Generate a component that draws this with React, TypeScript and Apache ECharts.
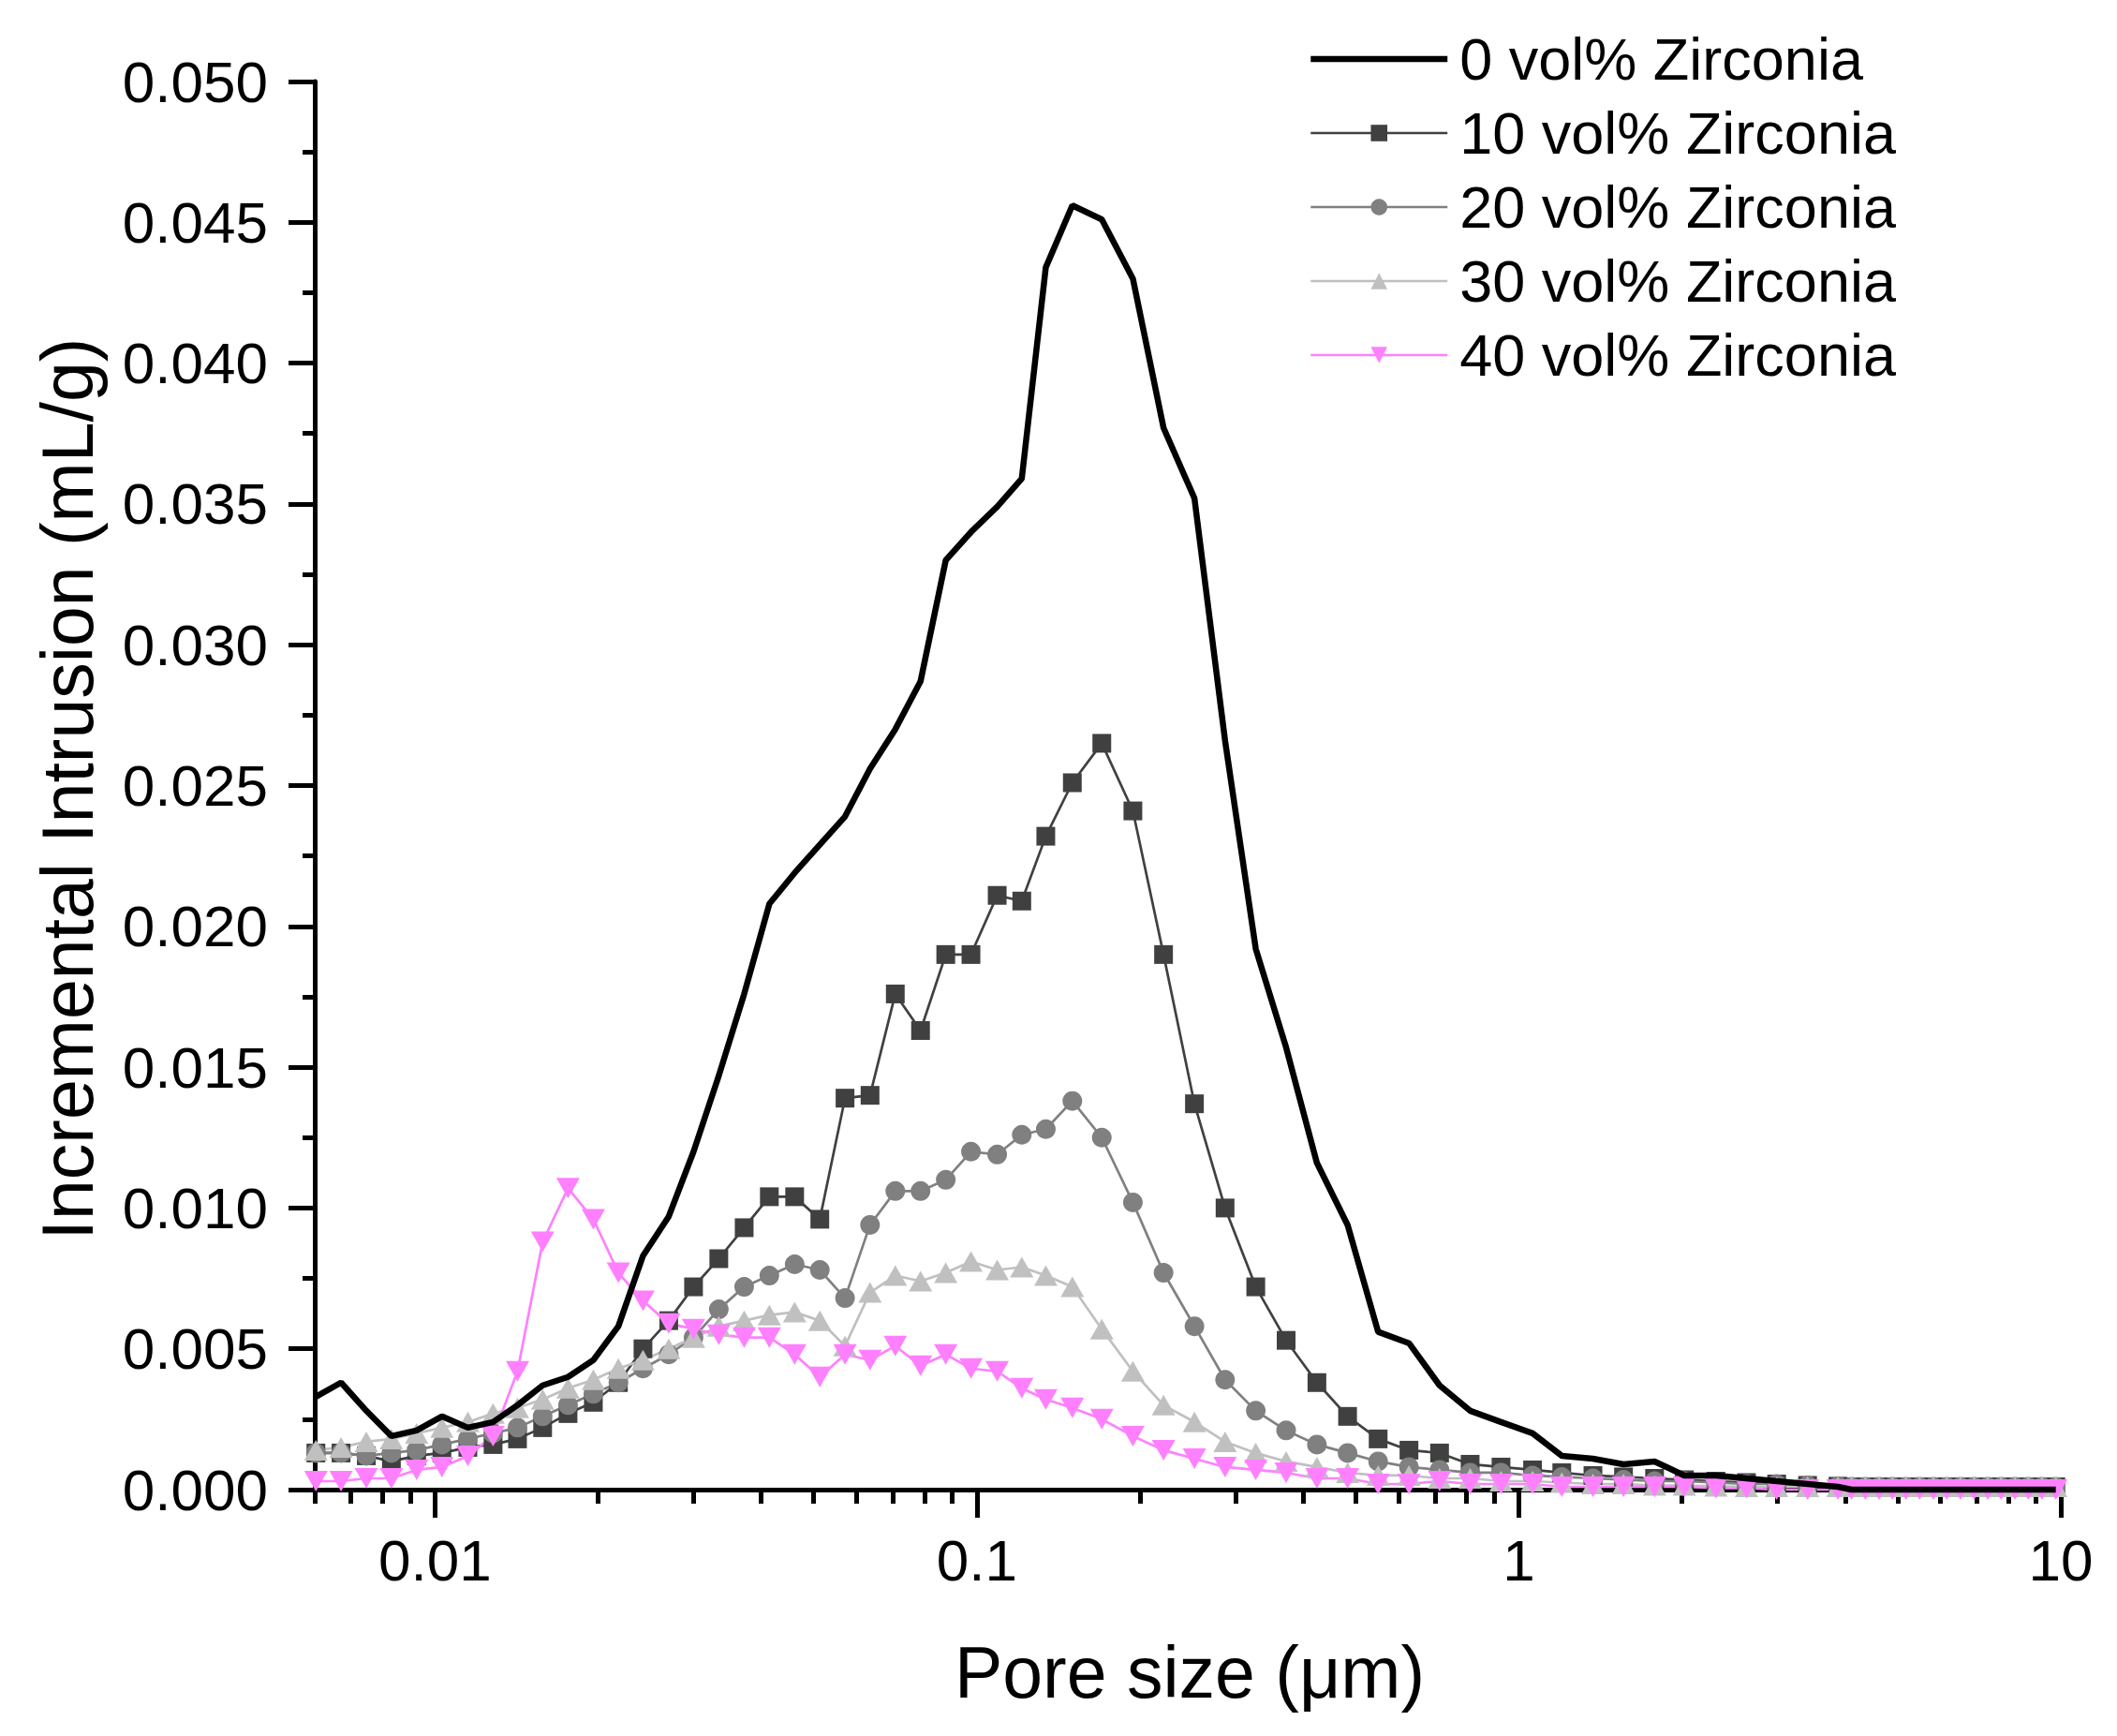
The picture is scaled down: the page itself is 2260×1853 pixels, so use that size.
import React, { useEffect, useRef } from "react";
import * as echarts from "echarts";

const poreSize = [
  0.00603, 0.00671, 0.00747, 0.00831, 0.00925, 0.0103, 0.0115, 0.0128, 0.0142, 0.0158,
  0.0176, 0.0196, 0.0218, 0.0242, 0.027, 0.03, 0.0334, 0.0372, 0.0414, 0.0461,
  0.0513, 0.0571, 0.0635, 0.0707, 0.0787, 0.0876, 0.0975, 0.109, 0.121, 0.134,
  0.15, 0.17, 0.194, 0.221, 0.252, 0.287, 0.327, 0.372, 0.424, 0.483,
  0.55, 0.627, 0.714, 0.813, 0.927, 1.06, 1.2, 1.37, 1.56, 1.78,
  2.02, 2.31, 2.63, 2.99, 3.41, 3.88, 4.11, 4.36, 4.62, 4.89,
  5.18, 5.49, 5.82, 6.16, 6.53, 6.92, 7.33, 7.76, 8.23, 8.71,
  9.23, 9.79,
];

const zirconia0 = [
  0.0033, 0.0038, 0.0028, 0.0019, 0.0021, 0.0026, 0.0022, 0.0024, 0.003, 0.0037,
  0.004, 0.0046, 0.0058, 0.0083, 0.0097, 0.012, 0.0147, 0.0176, 0.0208, 0.0219,
  0.0229, 0.0239, 0.0256, 0.027, 0.0287, 0.033, 0.034, 0.0349, 0.0359, 0.0434,
  0.0456, 0.0451, 0.043, 0.0377, 0.0352, 0.0266, 0.0192, 0.0157, 0.0116, 0.0094,
  0.0056, 0.0052, 0.0037, 0.0028, 0.0024, 0.002, 0.0012, 0.0011, 0.0009, 0.001,
  0.0005, 0.0005, 0.0004, 0.0003, 0.0002, 0.0001, 0, 0, 0, 0,
  0, 0, 0, 0, 0, 0, 0, 0, 0, 0,
  0, 0,
];

const zirconia10 = [
  0.0013, 0.0013, 0.0012, 0.001, 0.0012, 0.0013, 0.0015, 0.0016, 0.0018, 0.0022,
  0.0027, 0.0031, 0.0038, 0.005, 0.006, 0.0072, 0.0082, 0.0093, 0.0104, 0.0104,
  0.0096, 0.0139, 0.014, 0.0176, 0.0163, 0.019, 0.019, 0.0211, 0.0209, 0.0232,
  0.0251, 0.0265, 0.0241, 0.019, 0.0137, 0.01, 0.0072, 0.0053, 0.0038, 0.0026,
  0.0018, 0.0014, 0.0013, 0.0009, 0.0008, 0.0007, 0.0006, 0.0005, 0.00045, 0.0004,
  0.00035, 0.0003, 0.00025, 0.0002, 0.00015, 0.00012, 0.0001, 0.0001, 0.0001, 0.0001,
  0.0001, 0.0001, 0.0001, 0.0001, 0.0001, 0.0001, 0.0001, 0.0001, 0.0001, 0.0001,
  0.0001, 0.0001,
];

const zirconia20 = [
  0.0013, 0.0013, 0.0012, 0.0013, 0.0014, 0.0016, 0.0018, 0.002, 0.0022, 0.0026,
  0.003, 0.0034, 0.0038, 0.0043, 0.0048, 0.0054, 0.0064, 0.0072, 0.0076, 0.008,
  0.0078, 0.0068, 0.0094, 0.0106, 0.0106, 0.011, 0.012, 0.0119, 0.0126, 0.0128,
  0.0138, 0.0125, 0.0102, 0.0077, 0.0058, 0.0039, 0.0028, 0.0021, 0.0016, 0.0013,
  0.001, 0.0008, 0.0007, 0.0006, 0.0006, 0.0005, 0.00045, 0.0004, 0.00035, 0.0003,
  0.0003, 0.00025, 0.0002, 0.0002, 0.00015, 0.00012, 0.0001, 0.0001, 0.0001, 0.0001,
  0.0001, 0.0001, 0.0001, 0.0001, 0.0001, 0.0001, 0.0001, 0.0001, 0.0001, 0.0001,
  0.0001, 0.0001,
];

const zirconia30 = [
  0.0014, 0.0015, 0.0017, 0.0018, 0.002, 0.0022, 0.0024, 0.0027, 0.0029, 0.0032,
  0.0036, 0.0039, 0.0043, 0.0046, 0.005, 0.0054, 0.0058, 0.006, 0.0062, 0.0063,
  0.006, 0.0051, 0.007, 0.0076, 0.0074, 0.0077, 0.0081, 0.0078, 0.0079, 0.0076,
  0.0072, 0.0057, 0.0042, 0.003, 0.0024, 0.0017, 0.0013, 0.001, 0.0008, 0.0006,
  0.0005, 0.0005, 0.0004, 0.0004, 0.0003, 0.0003, 0.00025, 0.0002, 0.0002, 0.00015,
  0.00015, 0.00012, 0.0001, 0.0001, 0.0001, 0.0001, 0.0001, 0.0001, 0.0001, 0.0001,
  0.0001, 0.0001, 0.0001, 0.0001, 0.0001, 0.0001, 0.0001, 0.0001, 0.0001, 0.0001,
  0.0001, 0.0001,
];

const zirconia40 = [
  0.0003, 0.0003, 0.0004, 0.0004, 0.0007, 0.0008, 0.0012, 0.0019, 0.0042, 0.0088,
  0.0107, 0.0096, 0.0077, 0.0067, 0.0059, 0.0057, 0.0055, 0.0054, 0.0054, 0.0048,
  0.004, 0.0048, 0.0046, 0.0051, 0.0044, 0.0048, 0.0043, 0.0042, 0.0036, 0.0032,
  0.0029, 0.0025, 0.0019, 0.0014, 0.0011, 0.0008, 0.0007, 0.0006, 0.0004, 0.0004,
  0.0002, 0.0002, 0.0003, 0.0002, 0.0002, 0.0002, 0.0001, 0.0001, 0.0001, 0.0001,
  0.0001, 0.00005, 0.00005, 0, 0, 0, 0, 0, 0, 0,
  0, 0, 0, 0, 0, 0, 0, 0, 0, 0,
  0, 0,
];

const seriesNames = [
  "0 vol% Zirconia",
  "10 vol% Zirconia",
  "20 vol% Zirconia",
  "30 vol% Zirconia",
  "40 vol% Zirconia",
];

const xMajorTicks = [0.01, 0.1, 1, 10];
const xMinorTicks = [
  0.006, 0.007, 0.008, 0.009,
  0.02, 0.03, 0.04, 0.05, 0.06, 0.07, 0.08, 0.09,
  0.2, 0.3, 0.4, 0.5, 0.6, 0.7, 0.8, 0.9,
  2, 3, 4, 5, 6, 7, 8, 9,
];

const FONT = "Arial, 'Liberation Sans', sans-serif";
const THIN = 2.7;
const THICK = 6.5;

function pairs(values: number[]) {
  return poreSize.map((x, i) => [x, values[i]]);
}

export default function App() {
  const ref = useRef<HTMLDivElement>(null);

  useEffect(() => {
    if (!ref.current) return;
    const chart = echarts.init(ref.current, null, { renderer: "svg" });

    const markerSeries = (
      name: string,
      values: number[],
      color: string,
      symbol: string,
      size: number | number[]
    ) => ({
      name,
      type: "line",
      data: pairs(values),
      xAxisIndex: 0,
      yAxisIndex: 0,
      symbol,
      symbolSize: size,
      showSymbol: true,
      clip: false,
      lineStyle: { color, width: THIN },
      itemStyle: { color, borderWidth: 0 },
      z: 3,
    });

    const option: any = {
      animation: false,
      backgroundColor: "#ffffff",
      grid: { left: 336, top: 87, right: 60, bottom: 263, containLabel: false },
      legend: {
        orient: "vertical",
        left: 1391,
        top: 26,
        itemWidth: 146,
        itemHeight: 22,
        itemGap: 15,
        data: [
          {
            name: seriesNames[0],
            itemStyle: { color: "rgba(0,0,0,0)", opacity: 0, borderWidth: 0 },
            lineStyle: { width: THICK, color: "#000" },
          },
          { name: seriesNames[1], lineStyle: { width: THIN } },
          { name: seriesNames[2], lineStyle: { width: THIN } },
          { name: seriesNames[3], lineStyle: { width: THIN } },
          { name: seriesNames[4], lineStyle: { width: THIN } },
        ],
        textStyle: {
          fontFamily: FONT,
          fontSize: 63,
          color: "#000",
          lineHeight: 64,
          padding: [0, 0, 0, 8],
        },
      },
      xAxis: [
        {
          type: "log",
          logBase: 10,
          min: 0.006,
          max: 10,
          position: "bottom",
          axisLine: { show: true, onZero: false, lineStyle: { color: "#000", width: 5 } },
          axisTick: {
            show: true,
            inside: false,
            length: 30,
            customValues: xMajorTicks,
            lineStyle: { color: "#000", width: 5 },
          },
          minorTick: { show: false },
          splitLine: { show: false },
          axisLabel: {
            show: true,
            customValues: xMajorTicks,
            margin: 44,
            fontFamily: FONT,
            fontSize: 62,
            color: "#000",
            formatter: (v: number) => String(parseFloat(Number(v).toPrecision(3))),
          },
        },
        {
          type: "log",
          logBase: 10,
          min: 0.006,
          max: 10,
          position: "bottom",
          axisLine: { show: false, onZero: false },
          axisTick: {
            show: true,
            inside: false,
            length: 15,
            customValues: xMinorTicks,
            lineStyle: { color: "#000", width: 5 },
          },
          axisLabel: { show: false },
          splitLine: { show: false },
        },
      ],
      yAxis: {
        type: "value",
        min: 0,
        max: 0.05,
        interval: 0.005,
        axisLine: { show: true, lineStyle: { color: "#000", width: 5 } },
        axisTick: { show: true, inside: false, length: 28, lineStyle: { color: "#000", width: 5 } },
        minorTick: { show: true, splitNumber: 2, length: 13, lineStyle: { color: "#000", width: 5 } },
        splitLine: { show: false },
        axisLabel: {
          margin: 50,
          fontFamily: FONT,
          fontSize: 62,
          color: "#000",
          formatter: (v: number) => v.toFixed(3),
        },
      },
      graphic: [
        {
          type: "text",
          x: 1270,
          y: 1785,
          style: {
            text: "Pore size (μm)",
            fontFamily: FONT,
            fontSize: 77,
            fill: "#000",
            align: "center",
            verticalAlign: "middle",
          },
        },
        {
          type: "text",
          x: 72,
          y: 842,
          rotation: Math.PI / 2,
          style: {
            text: "Incremental Intrusion (mL/g)",
            fontFamily: FONT,
            fontSize: 77,
            fill: "#000",
            align: "center",
            verticalAlign: "middle",
          },
        },
      ],
      series: [
        {
          name: seriesNames[0],
          type: "line",
          data: pairs(zirconia0),
          symbol: "none",
          showSymbol: false,
          clip: false,
          lineStyle: { color: "#000000", width: THICK },
          itemStyle: { color: "#000000" },
          z: 4,
        },
        markerSeries(seriesNames[1], zirconia10, "#404040", "rect", 20),
        markerSeries(seriesNames[2], zirconia20, "#808080", "circle", 21),
        markerSeries(seriesNames[3], zirconia30, "#c0c0c0", "triangle", [25, 22]),
        markerSeries(seriesNames[4], zirconia40, "#ff80ff", "path://M0,0L2,0L1,2Z", [25, 22]),
      ],
    };

    chart.setOption(option);
    return () => chart.dispose();
  }, []);

  return (
    <div
      ref={ref}
      style={{ position: "absolute", left: 0, top: 0, width: 2260, height: 1853, background: "#fff" }}
    />
  );
}
